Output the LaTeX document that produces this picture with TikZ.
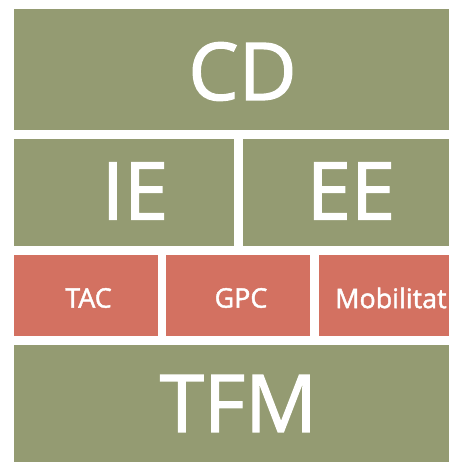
\documentclass[tikz,border=0pt]{standalone}
\usepackage{fontspec}
\setmainfont{Open Sans}
\newfontfamily\blockfont{Open Sans}[FakeBold=1.6]
\definecolor{olivebox}{RGB}{148,155,114}
\definecolor{rustbox}{RGB}{211,113,97}
\tikzset{
  block/.style={rectangle,draw=none,fill=olivebox,inner sep=0pt,outer sep=0pt},
  subblock/.style={block,fill=rustbox},
  bigtext/.style={text=white,inner sep=0pt,font=\blockfont\fontsize{80}{80}\selectfont},
  smalltext/.style={text=white,inner sep=0pt,font=\blockfont\fontsize{27}{27}\selectfont},
}
\begin{document}
\begin{tikzpicture}[x=1bp,y=1bp]
  \useasboundingbox (0,0) rectangle (449,462);
  \clip (0,0) rectangle (449,462);
%%
  % Node: cd
  \node[block,minimum width=435bp,minimum height=121bp,
    label={[bigtext,xshift=11bp,yshift=-2bp]center:CD}] (cd) at (231.5,392.5) {};
  % Node: ie
  \node[block,minimum width=220bp,minimum height=107bp,
    label={[bigtext,xshift=11bp,yshift=1.5bp]center:IE}] (ie) at (124,269.5) {};
  % Node: ee
  \node[block,minimum width=206bp,minimum height=107bp,
    label={[bigtext,xshift=5bp,yshift=1.5bp]center:EE}] (ee) at (346,269.5) {};
  % Node: tac
  \node[subblock,minimum width=144bp,minimum height=81bp,
    label={[smalltext,xshift=2.5bp,yshift=-2.5bp]center:TAC}] (tac) at (86,166.5) {};
  % Node: gpc
  \node[subblock,minimum width=144bp,minimum height=81bp,
    label={[smalltext,xshift=3bp,yshift=-2.5bp]center:GPC}] (gpc) at (238,166.5) {};
  % Node: mob
  \node[subblock,minimum width=144bp,minimum height=81bp,
    label={[smalltext,anchor=west,xshift=16bp,yshift=-2.5bp]west:Mobilitat}] (mob) at (391,166.5) {};
  % Node: tfm
  \node[block,minimum width=435bp,minimum height=117bp,
    label={[bigtext,xshift=7bp]center:TFM}] (tfm) at (231.5,58.5) {};
%
\end{tikzpicture}
\end{document}
